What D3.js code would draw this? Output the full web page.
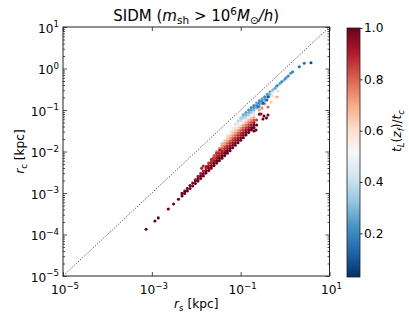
<!DOCTYPE html>
<html><head><meta charset="utf-8">
<script src="https://cdn.jsdelivr.net/npm/d3@7"></script>
<style>body{margin:0;background:#fff} text{font-family:"DejaVu Sans",sans-serif;fill:#000}</style>
</head><body><svg id="c" width="409" height="324"></svg>
<script>
// ---- data ----
const xTickExps = [-5, -3, -1, 1];
const yTickExps = [-5, -4, -3, -2, -1, 0, 1];
const cbTicks = [0.2, 0.4, 0.6, 0.8, 1.0];
const cbDomain = [0.03, 1.0];
// each point: [log10 r_s (kpc), log10 r_c (kpc), t_L(z_f)/t_c]
const ridgePoints = [
  [-3.13,-3.875,1],[-2.93,-3.675,1],[-2.855,-3.60,1],[-2.63,-3.386,1],[-2.51,-3.265,1],[-2.40,-3.152,1]
];
const bandPoints = [
  [-2.32,-3.07,1],[-2.32,-3.01,1],
  [-2.26,-3.01,1],[-2.26,-2.95,1],
  [-2.20,-2.95,1],[-2.20,-2.89,1],
  [-2.14,-2.89,1],[-2.14,-2.82,1],
  [-2.08,-2.83,1],[-2.08,-2.76,0.98],
  [-2.02,-2.77,1],[-2.02,-2.71,1],[-2.02,-2.68,0.95],
  [-1.96,-2.71,1],[-1.96,-2.65,1],[-1.96,-2.60,0.92],
  [-1.90,-2.65,1],[-1.90,-2.59,1],[-1.90,-2.53,0.92],
  [-1.84,-2.59,1],[-1.84,-2.53,1],[-1.84,-2.47,0.9],
  [-1.78,-2.52,1],[-1.78,-2.46,1],[-1.78,-2.40,0.9],[-1.78,-2.36,0.88],
  [-1.72,-2.46,1],[-1.72,-2.40,1],[-1.72,-2.34,0.9],[-1.72,-2.28,0.88],
  [-1.66,-2.40,1],[-1.66,-2.34,1],[-1.66,-2.28,0.9],[-1.66,-2.22,0.88],[-1.66,-2.19,0.85],
  [-1.60,-2.34,1],[-1.60,-2.28,1],[-1.60,-2.22,0.92],[-1.60,-2.16,0.88],[-1.60,-2.10,0.82],
  [-1.54,-2.28,1],[-1.54,-2.22,1],[-1.54,-2.16,0.92],[-1.54,-2.10,0.88],[-1.54,-2.04,0.8],[-1.54,-2.01,0.78],
  [-1.48,-2.22,1],[-1.48,-2.16,1],[-1.48,-2.10,0.92],[-1.48,-2.04,0.88],[-1.48,-1.98,0.8],[-1.48,-1.92,0.72],
  [-1.42,-2.16,1],[-1.42,-2.10,1],[-1.42,-2.04,0.92],[-1.42,-1.98,0.88],[-1.42,-1.92,0.8],[-1.42,-1.86,0.72],[-1.42,-1.81,0.68],
  [-1.36,-2.10,1],[-1.36,-2.04,1],[-1.36,-1.98,0.93],[-1.36,-1.92,0.88],[-1.36,-1.86,0.8],[-1.36,-1.80,0.72],[-1.36,-1.74,0.65],
  [-1.30,-2.04,1],[-1.30,-1.98,1],[-1.30,-1.92,0.93],[-1.30,-1.86,0.88],[-1.30,-1.80,0.8],[-1.30,-1.74,0.72],[-1.30,-1.68,0.65],[-1.30,-1.62,0.6],
  [-1.24,-1.98,1],[-1.24,-1.92,1],[-1.24,-1.86,0.93],[-1.24,-1.80,0.88],[-1.24,-1.74,0.8],[-1.24,-1.68,0.72],[-1.24,-1.62,0.65],[-1.24,-1.56,0.6],[-1.24,-1.52,0.55],
  [-1.18,-1.91,1],[-1.18,-1.85,0.97],[-1.18,-1.79,0.92],[-1.18,-1.73,0.87],[-1.18,-1.67,0.8],[-1.18,-1.61,0.72],[-1.18,-1.55,0.65],[-1.18,-1.49,0.58],[-1.18,-1.43,0.48],
  [-1.12,-1.85,1],[-1.12,-1.79,0.97],[-1.12,-1.73,0.92],[-1.12,-1.67,0.87],[-1.12,-1.61,0.8],[-1.12,-1.55,0.72],[-1.12,-1.49,0.65],[-1.12,-1.43,0.58],[-1.12,-1.37,0.48],[-1.12,-1.34,0.42],
  [-1.06,-1.79,1],[-1.06,-1.73,0.97],[-1.06,-1.67,0.92],[-1.06,-1.61,0.87],[-1.06,-1.55,0.8],[-1.06,-1.49,0.72],[-1.06,-1.43,0.62],[-1.06,-1.37,0.55],[-1.06,-1.31,0.45],[-1.06,-1.26,0.38],
  [-1.00,-1.73,1],[-1.00,-1.67,0.97],[-1.00,-1.61,0.92],[-1.00,-1.55,0.87],[-1.00,-1.49,0.8],[-1.00,-1.43,0.72],[-1.00,-1.37,0.62],[-1.00,-1.31,0.52],[-1.00,-1.25,0.4],[-1.00,-1.19,0.35],
  [-0.94,-1.67,1],[-0.94,-1.61,0.97],[-0.94,-1.55,0.92],[-0.94,-1.49,0.87],[-0.94,-1.43,0.8],[-0.94,-1.37,0.72],[-0.94,-1.31,0.6],[-0.94,-1.25,0.48],[-0.94,-1.19,0.36],[-0.94,-1.13,0.3],[-0.94,-1.11,0.28],
  [-0.88,-1.60,1],[-0.88,-1.54,0.97],[-0.88,-1.48,0.92],[-0.88,-1.42,0.87],[-0.88,-1.36,0.78],[-0.88,-1.30,0.7],[-0.88,-1.24,0.58],[-0.88,-1.18,0.4],[-0.88,-1.12,0.3],[-0.88,-1.06,0.25],
  [-0.82,-1.54,1],[-0.82,-1.48,0.97],[-0.82,-1.42,0.92],[-0.82,-1.36,0.85],[-0.82,-1.30,0.78],[-0.82,-1.24,0.68],[-0.82,-1.18,0.55],[-0.82,-1.12,0.35],[-0.82,-1.06,0.28],[-0.82,-1.00,0.22],
  [-0.76,-1.48,1],[-0.76,-1.42,0.97],[-0.76,-1.36,0.9],[-0.76,-1.30,0.85],[-0.76,-1.24,0.75],[-0.76,-1.18,0.65],[-0.76,-1.12,0.5],[-0.76,-1.06,0.32],[-0.76,-1.00,0.25],[-0.76,-0.94,0.2],
  [-0.70,-1.42,1],[-0.70,-1.36,1],[-0.70,-1.30,0.92],[-0.70,-1.24,0.82],[-0.70,-1.18,0.72],[-0.70,-1.12,0.6],[-0.70,-1.06,0.42],[-0.70,-1.00,0.3],[-0.70,-0.94,0.22],[-0.70,-0.89,0.2],
  [-0.64,-1.36,1],[-0.64,-1.24,0.85],[-0.64,-0.95,0.28],[-0.64,-0.89,0.2],[-0.64,-0.83,0.25],
  [-0.58,-1.10,0.97],[-0.58,-1.00,0.72],[-0.58,-0.90,0.28],[-0.58,-0.84,0.2],[-0.58,-0.78,0.22],
  [-0.52,-0.85,0.3],[-0.52,-0.79,0.2],[-0.52,-0.73,0.25],
  [-0.46,-0.80,0.35],[-0.46,-0.74,0.25],[-0.46,-0.68,0.2],
  [-0.40,-0.75,0.4],[-0.40,-0.68,0.3],[-0.40,-0.62,0.22],
  [-0.34,-0.69,0.45],[-0.34,-0.62,0.3],[-0.34,-0.56,0.25]
];
const speckPoints = [
  [-1.878,-2.405,0.9],[-1.842,-2.349,0.88],[-1.765,-2.366,0.92],[-1.691,-2.405,0.95],
  [-1.652,-2.188,0.88],[-1.616,-2.164,0.85],[-1.540,-2.043,0.88],[-1.466,-1.964,0.9],
  [-0.52,-0.952,0.75],[-0.45,-0.855,0.7],[-0.385,-0.928,0.8],[-0.315,-0.807,0.65],
  [-0.272,-0.663,0.6],[-0.159,-0.542,0.62],[-0.182,-0.687,0.7],
  [-0.475,-1.145,1],[-0.419,-1.193,1],[-0.385,-1.12,0.98],[-0.498,-1.217,1],[-0.543,-1.096,0.95],
  [-0.723,-1.434,1],[-0.655,-1.482,1],[-0.70,-1.506,1],
  [-0.378,-0.68,0.1],[-0.414,-0.759,0.12],[-0.491,-0.839,0.1],[-0.603,-0.92,0.15],
  [-0.295,-0.59,0.45],[-0.227,-0.566,0.5]
];
const tailPoints = [
  [0.583,0.140,0.08],[0.432,0.125,0.15],[0.320,0.043,0.15],[0.171,-0.077,0.2],[0.126,-0.116,0.22],
  [0.072,-0.181,0.2],[0.036,-0.212,0.25],[-0.002,-0.253,0.2],[-0.041,-0.294,0.3],[-0.077,-0.318,0.22],
  [-0.115,-0.357,0.25],[-0.153,-0.398,0.3],[-0.189,-0.422,0.2],[-0.227,-0.477,0.25],[-0.279,-0.518,0.3]
];

// ---- layout / style ----
const X0 = 63, X1 = 329.5, Y0 = 27, Y1 = 276;
const CBX0 = 347, CBX1 = 360, CBY0 = 28, CBY1 = 277;
const FS = 12.2, SFS = 8.6;
const rdbu = ["#053061","#2166ac","#4393c3","#92c5de","#d1e5f0","#f7f7f7","#fddbc7","#f4a582","#d6604d","#b2182b","#67001f"];
const cmap = d3.scaleLinear().domain(d3.range(11).map(i => i / 10)).range(rdbu).interpolate(d3.interpolateRgb).clamp(true);
const norm = d3.scaleLinear().domain(cbDomain).range([0, 1]).clamp(true);
const color = v => cmap(norm(v));

const svg = d3.select("#c");
const x = d3.scaleLog().domain([1e-5, 1e1]).range([X0, X1]);
const y = d3.scaleLog().domain([1e-5, 1e1]).range([Y1, Y0]);

// points
const allPts = bandPoints.concat(ridgePoints, speckPoints, tailPoints);
svg.append("g").selectAll("circle").data(allPts).join("circle")
  .attr("cx", d => x(Math.pow(10, d[0])))
  .attr("cy", d => y(Math.pow(10, d[1])))
  .attr("r", 1.55)
  .attr("fill", d => color(d[2]));

// diagonal
svg.append("line")
  .attr("x1", x(1e-5)).attr("y1", y(1e-5)).attr("x2", x(1e1)).attr("y2", y(1e1))
  .attr("stroke", "#000").attr("stroke-width", 0.8).attr("stroke-dasharray", "1,1.6");

// frame
svg.append("rect").attr("x", X0).attr("y", Y0).attr("width", X1 - X0).attr("height", Y1 - Y0)
  .attr("fill", "none").attr("stroke", "#222").attr("stroke-width", 1);

// ticks
const xt = xTickExps.map(e => Math.pow(10, e));
const yt = yTickExps.map(e => Math.pow(10, e));
const yMinor = [];
for (let e = -5; e < 1; e++) for (let m = 2; m <= 9; m++) yMinor.push(m * Math.pow(10, e));

function axisStyle(g) { g.select(".domain").remove(); g.selectAll("line").attr("stroke", "#222").attr("stroke-width", 0.8); g.selectAll("text").remove(); }
svg.append("g").attr("transform", `translate(0,${Y1})`).call(d3.axisBottom(x).tickValues(xt).tickSize(-4).tickFormat("")).call(axisStyle);
svg.append("g").attr("transform", `translate(0,${Y0})`).call(d3.axisTop(x).tickValues(xt).tickSize(-4).tickFormat("")).call(axisStyle);
svg.append("g").attr("transform", `translate(${X0},0)`).call(d3.axisLeft(y).tickValues(yt).tickSize(-4).tickFormat("")).call(axisStyle);
svg.append("g").attr("transform", `translate(${X1},0)`).call(d3.axisRight(y).tickValues(yt).tickSize(-4).tickFormat("")).call(axisStyle);
svg.append("g").attr("transform", `translate(${X0},0)`).call(d3.axisLeft(y).tickValues(yMinor).tickSize(-2).tickFormat("")).call(axisStyle);
svg.append("g").attr("transform", `translate(${X1},0)`).call(d3.axisRight(y).tickValues(yMinor).tickSize(-2).tickFormat("")).call(axisStyle);

function sci(t, e) {
  t.append("tspan").text("10");
  t.append("tspan").attr("dy", -5.5).attr("font-size", SFS).text(e < 0 ? "\u2212" + (-e) : String(e));
}
xTickExps.forEach(e => {
  const t = svg.append("text").attr("x", x(Math.pow(10, e)) + 2).attr("y", 294).attr("text-anchor", "middle").attr("font-size", FS);
  sci(t, e);
});
yTickExps.forEach(e => {
  const t = svg.append("text").attr("x", 59).attr("y", y(Math.pow(10, e)) + 5.5).attr("text-anchor", "end").attr("font-size", FS);
  sci(t, e);
});

// axis labels
const xl = svg.append("text").attr("x", (X0 + X1) / 2).attr("y", 308).attr("text-anchor", "middle").attr("font-size", FS);
xl.append("tspan").attr("font-style", "italic").text("r");
xl.append("tspan").attr("dy", 2.5).attr("font-size", SFS).text("s");
xl.append("tspan").attr("dy", -2.5).text(" [kpc]");

const yl = svg.append("text").attr("transform", `translate(24,${(Y0 + Y1) / 2}) rotate(-90)`).attr("text-anchor", "middle").attr("font-size", FS);
yl.append("tspan").attr("font-style", "italic").text("r");
yl.append("tspan").attr("dy", 2.5).attr("font-size", SFS).text("c");
yl.append("tspan").attr("dy", -2.5).text(" [kpc]");

// title
const tt = svg.append("text").attr("x", (X0 + X1) / 2).attr("y", 21).attr("text-anchor", "middle").attr("font-size", 15);
tt.append("tspan").text("SIDM (");
tt.append("tspan").attr("font-style", "italic").text("m");
tt.append("tspan").attr("dy", 3).attr("font-size", 10.5).text("sh");
tt.append("tspan").attr("dy", -3).text(" > 10");
tt.append("tspan").attr("dy", -6).attr("font-size", 10.5).text("6");
tt.append("tspan").attr("dy", 6).attr("font-style", "italic").text("M");
tt.append("tspan").attr("dy", 3).attr("font-size", 10.5).text("\u2299");
tt.append("tspan").attr("dy", -3).attr("font-style", "italic").text("/h");
tt.append("tspan").text(")");

// colorbar
const defs = svg.append("defs");
const grad = defs.append("linearGradient").attr("id", "cbg").attr("x1", 0).attr("y1", 1).attr("x2", 0).attr("y2", 0);
d3.range(0, 1.0001, 0.02).forEach(f => grad.append("stop").attr("offset", f).attr("stop-color", cmap(f)));
svg.append("rect").attr("x", CBX0).attr("y", CBY0).attr("width", CBX1 - CBX0).attr("height", CBY1 - CBY0)
  .attr("fill", "url(#cbg)").attr("stroke", "#222").attr("stroke-width", 0.8);
const cy = d3.scaleLinear().domain(cbDomain).range([CBY1, CBY0]);
svg.append("g").attr("transform", `translate(${CBX1},0)`)
  .call(d3.axisRight(cy).tickValues(cbTicks).tickSize(2.5).tickPadding(1.5).tickFormat(d3.format(".1f")))
  .call(g => { g.select(".domain").remove(); g.selectAll("line").attr("stroke", "#222"); g.selectAll("text").attr("font-size", FS).attr("font-family", "DejaVu Sans"); });

const cl = svg.append("text").attr("transform", `translate(401,131) rotate(-90)`).attr("text-anchor", "middle").attr("font-size", FS);
cl.append("tspan").attr("font-style", "italic").text("t");
cl.append("tspan").attr("dy", 2.5).attr("font-size", SFS).attr("font-style", "italic").text("L");
cl.append("tspan").attr("dy", -2.5).text("(");
cl.append("tspan").attr("font-style", "italic").text("z");
cl.append("tspan").attr("dy", 2.5).attr("font-size", SFS).attr("font-style", "italic").text("f");
cl.append("tspan").attr("dy", -2.5).text(")/");
cl.append("tspan").attr("font-style", "italic").text("t");
cl.append("tspan").attr("dy", 2.5).attr("font-size", SFS).attr("font-style", "italic").text("c");
</script></body></html>
